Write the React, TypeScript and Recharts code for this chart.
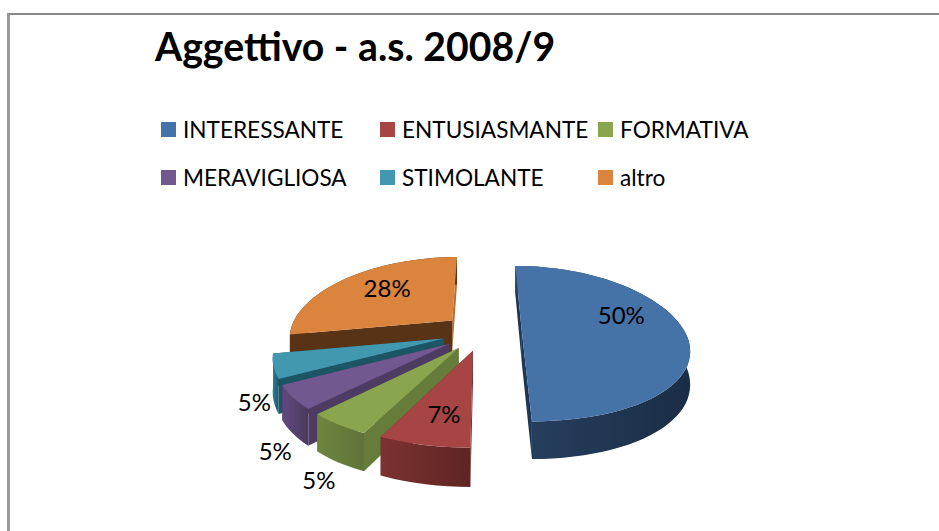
import { PieChart, Pie, Legend } from 'recharts';

// reference order of the series
const names = ['INTERESSANTE', 'ENTUSIASMANTE', 'FORMATIVA', 'MERAVIGLIOSA', 'STIMOLANTE', 'altro'];
const values = [50, 7, 5, 5, 5, 28];

const topColors = ['#4572A7', '#A64543', '#89A54E', '#71588F', '#4198AF', '#DB843D'];
const faceColors = ['#1D3654', '#6A2A29', '#667C3B', '#4D3B63', '#1C5566', '#583316'];
const backFaceColors = ['#1D3654', '#6A2A29', '#667C3B', '#4D3B63', '#1C5566', '#B56E33'];
const wallLeft = ['#26405F', '#7C3230', '#6E853F', '#62497F', '#2F7F95', '#583316'];
const wallRight = ['#1B2D46', '#5E2524', '#5F7437', '#4A3A5E', '#1E5A6B', '#583316'];
const labelNudge = [[-18, -18], [-2, 10], [3, 41], [10, 44], [18, 29], [13, -2]];
const labelRadius = [0.72, 0.6, 1.15, 1.15, 1.2, 0.72];

// slices are painted back to front, so the table runs anticlockwise from the top
const table = names.map((name, i) => ({ name, value: values[i], idx: i })).reverse();

const EXPLODE = 0.245;
const SQUASH = 76 / 163;
const PERSP_Y = 0.15;
const PERSP_X = 0.2;
const DEPTH = 32;
const RAD = Math.PI / 180;

function project(cx: number, cy: number, r: number, X: number, Y: number, drop = 0) {
    return {
        x: cx + (r * X) / (1 + PERSP_X * Y),
        y: cy - (r * SQUASH * Y) / (1 + PERSP_Y * Y) + drop / (1 + PERSP_Y * Y),
    };
}

const pts = (list: { x: number; y: number }[]) =>
    'M' + list.map((p) => `${p.x.toFixed(1)},${p.y.toFixed(1)}`).join('L') + 'Z';

function Slice3D(props: any) {
    const { cx, cy, outerRadius: r, startAngle, endAngle, idx } = props;
    // recharts angle to clockwise-from-top
    const a = 90 - Math.max(startAngle, endAngle);
    const b = 90 - Math.min(startAngle, endAngle);
    const mid = ((a + b) / 2) * RAD;
    const ox = EXPLODE * Math.sin(mid);
    const oy = EXPLODE * Math.cos(mid);
    const at = (t: number, drop = 0) =>
        project(cx, cy, r, ox + Math.sin(t * RAD), oy + Math.cos(t * RAD), drop);
    const apex = project(cx, cy, r, ox, oy);
    const apexLow = project(cx, cy, r, ox, oy, DEPTH);

    const arc: number[] = [];
    for (let t = a; t < b; t += 3) arc.push(t);
    arc.push(b);

    const top = [apex, ...arc.map((t) => at(t))];
    const wall = [...arc.map((t) => at(t)), ...arc.slice().reverse().map((t) => at(t, DEPTH))];
    const faceA = [apex, at(a), at(a, DEPTH), apexLow];
    const faceB = [apex, at(b), at(b, DEPTH), apexLow];
    const gid = `wall${idx}`;

    return (
        <g>
            <defs>
                <linearGradient id={gid} x1="0" y1="0" x2="1" y2="0">
                    <stop offset="0" stopColor={wallLeft[idx]} />
                    <stop offset="1" stopColor={wallRight[idx]} />
                </linearGradient>
            </defs>
            <path d={pts(faceB)} fill={backFaceColors[idx]} />
            <path d={pts(faceA)} fill={faceColors[idx]} />
            <path d={pts(wall)} fill={`url(#${gid})`} />
            <path d={pts(top)} fill={topColors[idx]} />
        </g>
    );
}

function sliceLabel(props: any) {
    const { cx, cy, outerRadius: r, midAngle, idx, value } = props;
    const t = (90 - midAngle) * RAD;
    const k = labelRadius[idx] + EXPLODE;
    const p = project(cx, cy, r, k * Math.sin(t), k * Math.cos(t));
    return (
        <text
            x={p.x + labelNudge[idx][0]}
            y={p.y + labelNudge[idx][1]}
            textAnchor="middle"
            dominantBaseline="central"
            fontFamily="Lato"
            fontSize={24}
            fill="#000"
        >
            {value}%
        </text>
    );
}

function LegendBlock() {
    const columns = [161, 380, 598];
    const rows = [129, 177];
    return (
        <div style={{ position: 'relative', width: 939, height: 0 }}>
            {names.map((name, i) => (
                <div
                    key={name}
                    style={{
                        position: 'absolute',
                        left: columns[i % 3],
                        top: rows[Math.floor(i / 3)] - 20,
                        height: 40,
                        display: 'flex',
                        alignItems: 'center',
                        whiteSpace: 'nowrap',
                        fontFamily: 'Lato',
                        fontSize: 22.6,
                        color: '#000',
                    }}
                >
                    <span style={{ width: 15, height: 15, marginRight: 7, background: topColors[i] }} />
                    {name}
                </div>
            ))}
        </div>
    );
}

export default function App() {
    return (
        <div style={{ position: 'absolute', left: 0, top: 0, width: 939, height: 531, background: '#fff', overflow: 'hidden' }}>
            <div style={{ position: 'absolute', left: 7, top: 13, width: 932, height: 518, borderTop: '2px solid #888', borderLeft: '3px solid #999', boxSizing: 'border-box' }} />
            <div style={{ position: 'absolute', left: 155, top: 23, fontFamily: 'Lato', fontWeight: 700, fontSize: 39.2, lineHeight: '46px', color: '#000', whiteSpace: 'nowrap' }}>
                Aggettivo - a.s. 2008/9
            </div>
            <PieChart width={939} height={531} margin={{ top: 0, right: 0, bottom: 0, left: 0 }} style={{ position: 'absolute', left: 0, top: 0 }}>
                <Legend content={() => <LegendBlock />} wrapperStyle={{ left: 0, top: 0, width: 939 }} verticalAlign="top" />
                <Pie
                    data={table}
                    dataKey="value"
                    nameKey="name"
                    cx={482}
                    cy={332}
                    outerRadius={163}
                    startAngle={90}
                    endAngle={450}
                    paddingAngle={0}
                    stroke="none"
                    isAnimationActive={false}
                    shape={Slice3D}
                    label={sliceLabel}
                    labelLine={false}
                />
            </PieChart>
        </div>
    );
}
